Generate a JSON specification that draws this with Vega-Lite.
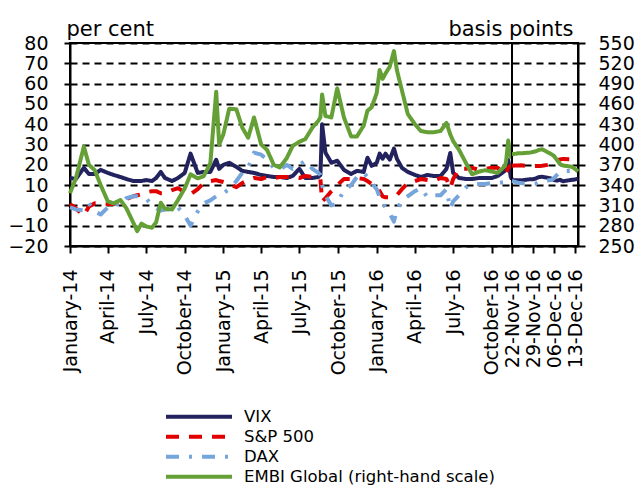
{
  "$schema": "https://vega.github.io/schema/vega-lite/v6.json",
  "padding": {"left": 6, "top": 17, "right": 2, "bottom": 0},
  "bounds": "flush",
  "config": {
    "font": "DejaVu Sans",
    "view": {"stroke": "black", "strokeWidth": 2},
    "axis": {"labelFont": "DejaVu Sans", "titleFont": "DejaVu Sans", "labelColor": "black", "titleColor": "black", "domainColor": "black", "tickColor": "black", "domainWidth": 2, "tickWidth": 2, "titleFontWeight": "normal"},
    "legend": {"orient": "none", "legendX": 94, "legendY": 364, "labelFont": "DejaVu Sans", "labelFontSize": 16.5, "labelColor": "black", "labelLimit": 400, "symbolType": "stroke", "symbolSize": 4356, "symbolStrokeWidth": 4, "clipHeight": 19.4, "rowPadding": 0, "labelOffset": 10, "padding": 0}
  },
  "datasets": {
    "main": [
      {"d": "2014-01-01", "VIX": 13.5, "SP": 0.7, "DAX": -1, "EMBI": 328},
      {"d": "2014-01-15", "VIX": 13, "SP": -1.5, "DAX": -2, "EMBI": 350},
      {"d": "2014-02-03", "VIX": 18.5, "SP": -5, "DAX": -2.5, "EMBI": 397},
      {"d": "2014-02-15", "VIX": 15.5, "SP": -0.5, "DAX": 1, "EMBI": 370},
      {"d": "2014-03-01", "VIX": 15.5, "SP": 1, "DAX": -3, "EMBI": 362},
      {"d": "2014-03-15", "VIX": 17.5, "SP": 1, "DAX": -4.5, "EMBI": 340},
      {"d": "2014-04-01", "VIX": 16, "SP": 0.7, "DAX": -1, "EMBI": 316},
      {"d": "2014-04-15", "VIX": 15, "SP": 0.7, "DAX": 1, "EMBI": 313},
      {"d": "2014-05-01", "VIX": 14, "SP": 1.5, "DAX": 0, "EMBI": 318},
      {"d": "2014-05-15", "VIX": 13, "SP": 3, "DAX": 3.5, "EMBI": 306},
      {"d": "2014-06-01", "VIX": 12, "SP": 4.5, "DAX": 4.5, "EMBI": 284},
      {"d": "2014-06-10", "VIX": 12, "SP": 5, "DAX": 4.5, "EMBI": 272},
      {"d": "2014-06-20", "VIX": 12, "SP": 5.5, "DAX": 4, "EMBI": 283},
      {"d": "2014-07-01", "VIX": 12.5, "SP": 6.5, "DAX": 3.5, "EMBI": 279},
      {"d": "2014-07-15", "VIX": 12, "SP": 7, "DAX": 0, "EMBI": 277},
      {"d": "2014-07-25", "VIX": 13.5, "SP": 7, "DAX": -1.5, "EMBI": 285},
      {"d": "2014-08-05", "VIX": 16.5, "SP": 6, "DAX": -2.5, "EMBI": 314},
      {"d": "2014-08-15", "VIX": 13.5, "SP": 6, "DAX": -2, "EMBI": 305},
      {"d": "2014-09-01", "VIX": 12, "SP": 7.5, "DAX": -2, "EMBI": 304},
      {"d": "2014-09-15", "VIX": 13.5, "SP": 8.5, "DAX": -1, "EMBI": 318},
      {"d": "2014-10-01", "VIX": 16, "SP": 6.5, "DAX": -5, "EMBI": 335},
      {"d": "2014-10-15", "VIX": 25.5, "SP": 5.5, "DAX": -10, "EMBI": 356},
      {"d": "2014-11-01", "VIX": 16, "SP": 8, "DAX": -3, "EMBI": 350},
      {"d": "2014-11-15", "VIX": 16.5, "SP": 11, "DAX": 1, "EMBI": 353},
      {"d": "2014-12-01", "VIX": 16.5, "SP": 12, "DAX": 2.5, "EMBI": 372},
      {"d": "2014-12-15", "VIX": 22.5, "SP": 12.5, "DAX": 4.5, "EMBI": 478},
      {"d": "2014-12-22", "VIX": 18, "SP": 12, "DAX": 5, "EMBI": 400},
      {"d": "2015-01-01", "VIX": 20, "SP": 11.5, "DAX": 6, "EMBI": 415},
      {"d": "2015-01-15", "VIX": 21, "SP": 10.5, "DAX": 8, "EMBI": 453},
      {"d": "2015-02-01", "VIX": 19, "SP": 9, "DAX": 12, "EMBI": 452},
      {"d": "2015-02-15", "VIX": 17, "SP": 11, "DAX": 16, "EMBI": 425},
      {"d": "2015-03-01", "VIX": 16.5, "SP": 12.5, "DAX": 18.5, "EMBI": 410},
      {"d": "2015-03-15", "VIX": 16, "SP": 13.5, "DAX": 26, "EMBI": 440},
      {"d": "2015-04-01", "VIX": 15, "SP": 13, "DAX": 25, "EMBI": 400},
      {"d": "2015-04-15", "VIX": 14.5, "SP": 14, "DAX": 22.5, "EMBI": 392},
      {"d": "2015-05-01", "VIX": 14, "SP": 13.5, "DAX": 18.5, "EMBI": 370},
      {"d": "2015-05-15", "VIX": 14, "SP": 14, "DAX": 17.5, "EMBI": 366},
      {"d": "2015-06-01", "VIX": 13.5, "SP": 14, "DAX": 20, "EMBI": 380},
      {"d": "2015-06-15", "VIX": 14.5, "SP": 14, "DAX": 18, "EMBI": 398},
      {"d": "2015-07-01", "VIX": 18, "SP": 13.5, "DAX": 20, "EMBI": 404},
      {"d": "2015-07-15", "VIX": 13.5, "SP": 14.5, "DAX": 22, "EMBI": 408},
      {"d": "2015-08-01", "VIX": 13.5, "SP": 14, "DAX": 18, "EMBI": 425},
      {"d": "2015-08-15", "VIX": 14, "SP": 13.5, "DAX": 16, "EMBI": 435},
      {"d": "2015-08-20", "VIX": 15, "SP": 13, "DAX": 15, "EMBI": 440},
      {"d": "2015-08-24", "VIX": 40, "SP": 2, "DAX": 10, "EMBI": 474},
      {"d": "2015-09-01", "VIX": 26, "SP": 3.5, "DAX": 5, "EMBI": 442},
      {"d": "2015-09-15", "VIX": 21, "SP": 7, "DAX": 0, "EMBI": 440},
      {"d": "2015-09-29", "VIX": 22, "SP": 10, "DAX": 1, "EMBI": 483},
      {"d": "2015-10-15", "VIX": 17.5, "SP": 13, "DAX": 7.5, "EMBI": 440},
      {"d": "2015-11-01", "VIX": 15.5, "SP": 13, "DAX": 10, "EMBI": 412},
      {"d": "2015-11-15", "VIX": 17, "SP": 13.5, "DAX": 14, "EMBI": 412},
      {"d": "2015-12-01", "VIX": 16.5, "SP": 13, "DAX": 16, "EMBI": 428},
      {"d": "2015-12-10", "VIX": 23.5, "SP": 12, "DAX": 14, "EMBI": 450},
      {"d": "2015-12-20", "VIX": 19.5, "SP": 10.5, "DAX": 11, "EMBI": 455},
      {"d": "2016-01-01", "VIX": 21, "SP": 9, "DAX": 8, "EMBI": 476},
      {"d": "2016-01-08", "VIX": 25.5, "SP": 7, "DAX": 4, "EMBI": 510},
      {"d": "2016-01-15", "VIX": 23, "SP": 4.5, "DAX": 1, "EMBI": 497},
      {"d": "2016-01-22", "VIX": 25.5, "SP": 4, "DAX": -1, "EMBI": 505},
      {"d": "2016-02-01", "VIX": 22.5, "SP": 4, "DAX": -4, "EMBI": 515},
      {"d": "2016-02-11", "VIX": 28, "SP": 4.5, "DAX": -8, "EMBI": 538},
      {"d": "2016-02-18", "VIX": 23, "SP": 5, "DAX": -2, "EMBI": 510},
      {"d": "2016-03-01", "VIX": 18.5, "SP": 8, "DAX": 2.5, "EMBI": 480},
      {"d": "2016-03-15", "VIX": 16.5, "SP": 11, "DAX": 4.5, "EMBI": 445},
      {"d": "2016-04-01", "VIX": 15, "SP": 12, "DAX": 7, "EMBI": 430},
      {"d": "2016-04-15", "VIX": 14, "SP": 13, "DAX": 8.5, "EMBI": 420},
      {"d": "2016-05-01", "VIX": 15, "SP": 12.5, "DAX": 4, "EMBI": 418},
      {"d": "2016-05-15", "VIX": 14.5, "SP": 12, "DAX": 5, "EMBI": 418},
      {"d": "2016-06-01", "VIX": 14.5, "SP": 13.5, "DAX": 5, "EMBI": 420},
      {"d": "2016-06-15", "VIX": 18, "SP": 13, "DAX": 8, "EMBI": 432},
      {"d": "2016-06-24", "VIX": 25.8, "SP": 8.5, "DAX": -1.5, "EMBI": 415},
      {"d": "2016-07-01", "VIX": 16, "SP": 13, "DAX": 2, "EMBI": 405},
      {"d": "2016-07-15", "VIX": 13.5, "SP": 18, "DAX": 5, "EMBI": 392},
      {"d": "2016-08-01", "VIX": 13, "SP": 18, "DAX": 9, "EMBI": 372},
      {"d": "2016-08-15", "VIX": 13, "SP": 18.5, "DAX": 10.5, "EMBI": 356},
      {"d": "2016-09-01", "VIX": 13.5, "SP": 17.5, "DAX": 10.5, "EMBI": 360},
      {"d": "2016-09-15", "VIX": 13.5, "SP": 18, "DAX": 10.5, "EMBI": 362},
      {"d": "2016-10-01", "VIX": 13.5, "SP": 18.5, "DAX": 11, "EMBI": 360},
      {"d": "2016-10-15", "VIX": 14.5, "SP": 18.5, "DAX": 11, "EMBI": 358},
      {"d": "2016-11-01", "VIX": 17, "SP": 15.5, "DAX": 11.5, "EMBI": 368},
      {"d": "2016-11-04", "VIX": 20, "SP": 16, "DAX": 11.5, "EMBI": 375},
      {"d": "2016-11-09", "VIX": 22.5, "SP": 18.5, "DAX": 12, "EMBI": 406},
      {"d": "2016-11-15", "VIX": 14, "SP": 19.5, "DAX": 12, "EMBI": 382},
      {"d": "2016-11-18", "VIX": 12.8, "SP": 19.5, "DAX": 12, "EMBI": 385}
    ],
    "recent": [
      {"d": "2016-11-22", "VIX": 12.4, "SP": 19.5, "DAX": 12, "EMBI": 386},
      {"d": "2016-11-23", "VIX": 12.4, "SP": 19.6, "DAX": 11.6, "EMBI": 386},
      {"d": "2016-11-24", "VIX": 12.4, "SP": 19.7, "DAX": 11.2, "EMBI": 387},
      {"d": "2016-11-25", "VIX": 12.3, "SP": 19.8, "DAX": 11, "EMBI": 387},
      {"d": "2016-11-28", "VIX": 12.9, "SP": 19.3, "DAX": 10.5, "EMBI": 388},
      {"d": "2016-11-29", "VIX": 12.9, "SP": 19.3, "DAX": 10.6, "EMBI": 389},
      {"d": "2016-11-30", "VIX": 13.3, "SP": 19.4, "DAX": 10.8, "EMBI": 390},
      {"d": "2016-12-01", "VIX": 14.0, "SP": 19.4, "DAX": 11.5, "EMBI": 392},
      {"d": "2016-12-02", "VIX": 14.1, "SP": 19.5, "DAX": 12, "EMBI": 393},
      {"d": "2016-12-05", "VIX": 13.3, "SP": 20.2, "DAX": 12.5, "EMBI": 386},
      {"d": "2016-12-06", "VIX": 12.5, "SP": 20.8, "DAX": 13.4, "EMBI": 383},
      {"d": "2016-12-07", "VIX": 12.2, "SP": 22.2, "DAX": 15, "EMBI": 377},
      {"d": "2016-12-08", "VIX": 12.6, "SP": 22.6, "DAX": 16.5, "EMBI": 371},
      {"d": "2016-12-09", "VIX": 11.9, "SP": 22.9, "DAX": 17, "EMBI": 369},
      {"d": "2016-12-12", "VIX": 12.6, "SP": 22.7, "DAX": 17, "EMBI": 367},
      {"d": "2016-12-13", "VIX": 12.8, "SP": 23, "DAX": 17.2, "EMBI": 364},
      {"d": "2016-12-14", "VIX": 13.2, "SP": 22.8, "DAX": 16.8, "EMBI": 360}
    ]
  },
  "spacing": 0,
  "resolve": {"scale": {"color": "shared", "strokeDash": "shared"}},
  "hconcat": [
    {
      "width": 442,
      "height": 203,
      "data": {"name": "main"},
      "transform": [{"fold": ["VIX", "SP", "DAX", "EMBI"], "as": ["k", "v"]}],
      "encoding": {
        "x": {
          "field": "d", "type": "temporal",
          "scale": {"type": "utc", "domain": [{"year": 2014, "month": 1, "date": 1, "utc": true}, {"year": 2016, "month": 11, "date": 18, "utc": true}]},
          "axis": {
            "values": [
              {"year": 2014, "month": 1, "date": 1, "utc": true},
              {"year": 2014, "month": 4, "date": 1, "utc": true},
              {"year": 2014, "month": 7, "date": 1, "utc": true},
              {"year": 2014, "month": 10, "date": 1, "utc": true},
              {"year": 2015, "month": 1, "date": 1, "utc": true},
              {"year": 2015, "month": 4, "date": 1, "utc": true},
              {"year": 2015, "month": 7, "date": 1, "utc": true},
              {"year": 2015, "month": 10, "date": 1, "utc": true},
              {"year": 2016, "month": 1, "date": 1, "utc": true},
              {"year": 2016, "month": 4, "date": 1, "utc": true},
              {"year": 2016, "month": 7, "date": 1, "utc": true},
              {"year": 2016, "month": 10, "date": 1, "utc": true}
            ],
            "labelExpr": "utcFormat(datum.value, '%B-%y')",
            "labelAngle": -90, "labelAlign": "right", "labelBaseline": "middle",
            "labelFontSize": 19, "labelPadding": 16, "tickSize": 7,
            "title": null, "grid": false, "labelOverlap": false, "labelBound": false, "labelFlush": false
          }
        },
        "color": {
          "field": "k", "type": "nominal",
          "scale": {"domain": ["VIX", "SP", "DAX", "EMBI"], "range": ["#22225e", "#e00000", "#76a5dc", "#64a036"]},
          "legend": {"title": null, "labelExpr": "datum.label == 'SP' ? 'S&P 500' : datum.label == 'EMBI' ? 'EMBI Global (right-hand scale)' : datum.label"}
        },
        "strokeDash": {
          "field": "k", "type": "nominal",
          "scale": {"domain": ["VIX", "SP", "DAX", "EMBI"], "range": [[1, 0], [13, 10], [13, 10, 3, 10], [1, 0]]},
          "legend": {"title": null, "labelExpr": "datum.label == 'SP' ? 'S&P 500' : datum.label == 'EMBI' ? 'EMBI Global (right-hand scale)' : datum.label"}
        }
      },
      "layer": [
        {
          "transform": [{"filter": "datum.k !== 'EMBI'"}],
          "mark": {"type": "line", "strokeWidth": 4, "strokeJoin": "round"},
          "encoding": {
            "y": {
              "field": "v", "type": "quantitative",
              "scale": {"domain": [-20, 80], "nice": false, "zero": false},
              "axis": {
                "values": [-20, -10, 0, 10, 20, 30, 40, 50, 60, 70, 80],
                "labelFontSize": 19, "tickSize": 6, "labelPadding": 16,
                "grid": true, "gridColor": "black", "gridDash": [7, 5], "gridWidth": 1.8,
                "title": "per cent", "titleAngle": 0, "titleAlign": "left", "titleBaseline": "alphabetic",
                "titleX": -4, "titleY": -8, "titleFontSize": 21
              }
            }
          }
        },
        {
          "transform": [{"filter": "datum.k === 'EMBI'"}],
          "mark": {"type": "line", "strokeWidth": 4, "strokeJoin": "round"},
          "encoding": {
            "y": {"field": "v", "type": "quantitative", "scale": {"domain": [250, 550], "nice": false, "zero": false}, "axis": null}
          }
        }
      ],
      "resolve": {"scale": {"y": "independent"}}
    },
    {
      "width": 66,
      "height": 203,
      "data": {"name": "recent"},
      "transform": [{"fold": ["VIX", "SP", "DAX", "EMBI"], "as": ["k", "v"]}],
      "encoding": {
        "x": {
          "field": "d", "type": "temporal",
          "scale": {"type": "utc", "domain": [{"year": 2016, "month": 11, "date": 22, "utc": true}, {"year": 2016, "month": 12, "date": 14, "utc": true}]},
          "axis": {
            "values": [
              {"year": 2016, "month": 11, "date": 22, "utc": true},
              {"year": 2016, "month": 11, "date": 29, "utc": true},
              {"year": 2016, "month": 12, "date": 6, "utc": true},
              {"year": 2016, "month": 12, "date": 13, "utc": true}
            ],
            "labelExpr": "utcFormat(datum.value, '%d-%b-%y')",
            "labelAngle": -90, "labelAlign": "right", "labelBaseline": "middle",
            "labelFontSize": 19, "labelPadding": 16, "tickSize": 7,
            "title": null, "grid": false, "labelOverlap": false, "labelBound": false, "labelFlush": false
          }
        },
        "color": {
          "field": "k", "type": "nominal",
          "scale": {"domain": ["VIX", "SP", "DAX", "EMBI"], "range": ["#22225e", "#e00000", "#76a5dc", "#64a036"]},
          "legend": {"title": null, "labelExpr": "datum.label == 'SP' ? 'S&P 500' : datum.label == 'EMBI' ? 'EMBI Global (right-hand scale)' : datum.label"}
        },
        "strokeDash": {
          "field": "k", "type": "nominal",
          "scale": {"domain": ["VIX", "SP", "DAX", "EMBI"], "range": [[1, 0], [13, 10], [13, 10, 3, 10], [1, 0]]},
          "legend": {"title": null, "labelExpr": "datum.label == 'SP' ? 'S&P 500' : datum.label == 'EMBI' ? 'EMBI Global (right-hand scale)' : datum.label"}
        }
      },
      "layer": [
        {
          "transform": [{"filter": "datum.k !== 'EMBI'"}],
          "mark": {"type": "line", "strokeWidth": 4, "strokeJoin": "round"},
          "encoding": {
            "y": {
              "field": "v", "type": "quantitative",
              "scale": {"domain": [-20, 80], "nice": false, "zero": false},
              "axis": {
                "values": [-20, -10, 0, 10, 20, 30, 40, 50, 60, 70, 80],
                "grid": true, "gridColor": "black", "gridDash": [7, 5], "gridWidth": 1.8,
                "labels": false, "ticks": false, "domain": false, "title": null, "minExtent": 0, "maxExtent": 0
              }
            }
          }
        },
        {
          "transform": [{"filter": "datum.k === 'EMBI'"}],
          "mark": {"type": "line", "strokeWidth": 4, "strokeJoin": "round"},
          "encoding": {
            "y": {
              "field": "v", "type": "quantitative",
              "scale": {"domain": [250, 550], "nice": false, "zero": false},
              "axis": {
                "orient": "right",
                "values": [250, 280, 310, 340, 370, 400, 430, 460, 490, 520, 550],
                "labelFontSize": 19, "tickSize": 7, "labelPadding": 13, "grid": false,
                "title": "basis points", "titleAngle": 0, "titleAlign": "right", "titleBaseline": "alphabetic",
                "titleX": -5, "titleY": -8, "titleFontSize": 21
              }
            }
          }
        }
      ],
      "resolve": {"scale": {"y": "independent"}}
    }
  ]
}
